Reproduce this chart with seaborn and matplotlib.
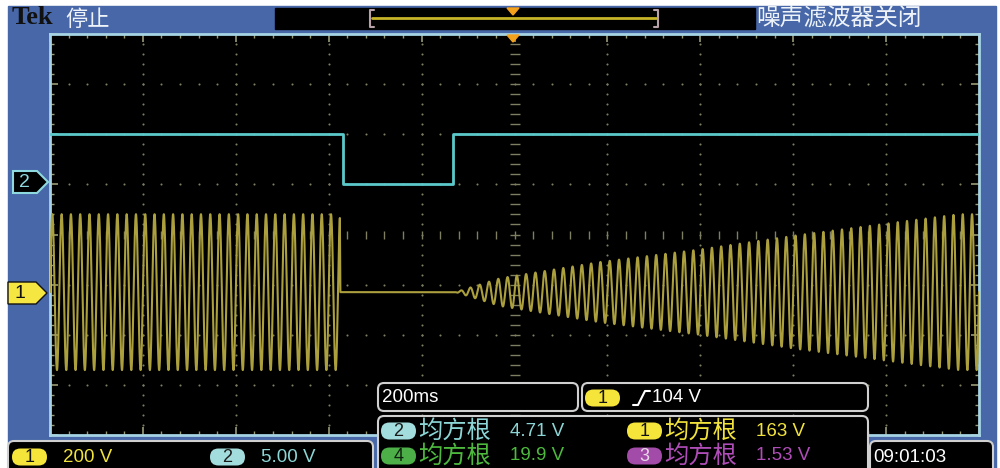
import numpy as np
import pandas as pd
import matplotlib
matplotlib.use("Agg")
import matplotlib.pyplot as plt
import seaborn as sns
from matplotlib import font_manager
from matplotlib.patches import Rectangle, FancyBboxPatch, Polygon

# ---- values ----
sec_per_div = 0.2          # 200ms/div, 10 divisions across
n_hdiv = 10
n_vdiv = 8
line_freq = 50             # mains, Hz
ch1_volts_per_div = 200
ch2_volts_per_div = 5.0
ch1_pos_div = -1.15        # ch1 ground marker, divisions from centre
ch2_pos_div = 1.0

# ch1 peak envelope (V) against time (s)
ch1_env_t = [0.0, 0.624, 0.625, 0.873, 0.968, 1.183, 1.398, 1.613, 1.828, 1.957, 2.0]
ch1_env_v = [311, 311, 0, 0, 55, 120, 170, 228, 280, 311, 311]

# ch2 step signal
ch2_t = [0.0, 0.630, 0.630, 0.867, 0.867, 2.0]
ch2_v = [5.0, 5.0, 0.0, 0.0, 5.0, 5.0]

# readouts
scale_ch = ["1", "2"]
scale_txt = ["200 V", "5.00 V"]
timebase_txt = "200ms"
trig_ch = "1"
trig_txt = "104 V"
meas_ch = ["2", "1", "4", "3"]
meas_name = ["均方根", "均方根", "均方根", "均方根"]
meas_val = ["4.71 V", "163 V", "19.9 V", "1.53 V"]
clock_txt = "09:01:03"
status_txt = "停止"
filter_txt = "噪声滤波器关闭"

# ---- styling ----
blue = "#4767A8"
ch_col = {"1": "#F2E33C", "2": "#8CD6D6", "3": "#B04DB8", "4": "#4DBA3E"}
badge_col = {"1": "#F5E53A", "2": "#A3DCDC", "3": "#A24BA8", "4": "#4CAF48"}
badge_txt = {"1": "#111111", "2": "#1a1a1a", "3": "#E8D8E8", "4": "#102010"}
dot_c = "#7E7E62"
cjk = ["Noto Sans CJK SC", "DejaVu Sans"]
names = {f.name for f in font_manager.fontManager.ttflist}
num_font = ["Liberation Sans Narrow"] if "Liberation Sans Narrow" in names else ["Liberation Sans"]
num_fs = 15 if num_font[0].endswith("Narrow") else 13.5

sns.set_style("dark")
plt.rcParams["font.family"] = num_font + ["DejaVu Sans"]

fig = plt.figure(figsize=(10, 4.68), dpi=100)
fig.patch.set_facecolor("white")

# background (pixel coords)
bg = fig.add_axes([0, 0, 1, 1], zorder=0)
bg.set_xlim(0, 1000)
bg.set_ylim(468, 0)
bg.axis("off")
bg.add_patch(Rectangle((8, 6), 988, 470, color=blue))

# graticule axes
gx0, gx1, gy0, gy1 = 50, 979, 34, 435
ax = fig.add_axes([gx0 / 1000, 1 - gy1 / 468, (gx1 - gx0) / 1000, (gy1 - gy0) / 468], zorder=1)
ax.set_facecolor("black")
tmax = sec_per_div * n_hdiv
ax.set_xlim(0, tmax)
ax.set_ylim(-n_vdiv / 2, n_vdiv / 2)
for s in ax.spines.values():
    s.set_color("#A6D4E4")
    s.set_linewidth(2)
ax.set_xticks(np.arange(0, tmax + 1e-9, sec_per_div))
ax.set_xticks(np.arange(0, tmax + 1e-9, sec_per_div / 5), minor=True)
ax.set_yticks(np.arange(-4, 4.01, 1))
ax.set_yticks(np.arange(-4, 4.01, 0.2), minor=True)
ax.tick_params(which="both", direction="in", top=True, right=True, bottom=True, left=True,
               labelbottom=False, labelleft=False, color="#9A9A76")
ax.tick_params(which="major", length=6, width=1.2)
ax.tick_params(which="minor", length=3, width=1)
ax.grid(False)

ys = np.arange(-4, 4.01, 0.2)[1:-1]
xs = np.arange(0, tmax + 1e-9, sec_per_div / 5)[1:-1]
for k in range(1, n_hdiv):
    xv = k * sec_per_div
    if k == n_hdiv // 2:
        ax.plot(np.full(ys.size, xv), ys, ls="none", marker="_", ms=7, mew=1, color=dot_c)
    else:
        ax.plot(np.full(ys.size, xv), ys, ls="none", marker="o", ms=1.5, mew=0, color=dot_c)
for m in range(-3, 4):
    if m == 0:
        ax.plot(xs, np.zeros(xs.size), ls="none", marker="|", ms=6, mew=1, color=dot_c)
    else:
        ax.plot(xs, np.full(xs.size, m), ls="none", marker="o", ms=1.5, mew=0, color=dot_c)

# traces
t = np.linspace(0, tmax, 12001)
env = np.interp(t, ch1_env_t, ch1_env_v)
v1 = env * np.sin(2 * np.pi * line_freq * t)
df1 = pd.DataFrame({"t": t, "div": ch1_pos_div + v1 / ch1_volts_per_div})
df2 = pd.DataFrame({"t": ch2_t, "div": ch2_pos_div + np.array(ch2_v) / ch2_volts_per_div})
sns.lineplot(data=df1, x="t", y="div", ax=ax, color="#ACA03E", lw=1.5,
             estimator=None, sort=False, zorder=3)
sns.lineplot(data=df2, x="t", y="div", ax=ax, color="#5BC9C9", lw=2.0,
             estimator=None, sort=False, zorder=4)
ax.set_xlabel("")
ax.set_ylabel("")

# overlay (pixel coords)
ov = fig.add_axes([0, 0, 1, 1], zorder=3)
ov.set_xlim(0, 1000)
ov.set_ylim(468, 0)
ov.axis("off")


def box(x0, y0, x1, y1):
    ov.add_patch(FancyBboxPatch((x0, y0), x1 - x0, y1 - y0,
                                boxstyle="round,pad=0,rounding_size=6",
                                fc="black", ec="#D0D0D0", lw=1.5))


def badge(x0, yc, ch, w=35, h=17):
    ov.add_patch(FancyBboxPatch((x0, yc - h / 2), w, h,
                                boxstyle=f"round,pad=0,rounding_size={h / 2}",
                                fc=badge_col[ch], ec="none"))
    ov.text(x0 + w / 2, yc + 0.5, ch, color=badge_txt[ch], ha="center", va="center", fontsize=13)


# top bar
ov.text(12, 18, "Tek", family=["Liberation Serif"], weight="bold", fontsize=19,
        color="#111111", ha="left", va="center")
ov.text(65, 19, status_txt, family=cjk, fontsize=16, color="#EEF3FA", ha="left", va="center")
ov.text(756, 19, filter_txt, family=cjk, fontsize=17, color="#EEF3FA", ha="left", va="center")
ov.add_patch(Rectangle((275, 8), 480, 21, color="black"))
ov.plot([372, 656], [17.5, 17.5], color="#C8B428", lw=2)
ov.plot([374, 370, 370, 374], [10, 10, 27, 27], color="#B8A0A8", lw=1.5)
ov.plot([654, 658, 658, 654], [10, 10, 27, 27], color="#B8A0A8", lw=1.5)
ov.add_patch(Polygon([(507, 8), (519, 8), (513, 15)], color="#F4A11C"))
ov.add_patch(Polygon([(507, 35), (519, 35), (513, 42)], color="#F4A11C"))

# channel markers
ov.add_patch(Polygon([(13, 171), (37, 171), (48, 182), (37, 193), (13, 193)],
                     fc="black", ec="#8ED8E0", lw=1.5))
ov.text(24, 182.5, "2", color="#8ED8E0", ha="center", va="center", fontsize=14)
ov.add_patch(Polygon([(8, 282), (36, 282), (47, 293), (36, 304), (8, 304)],
                     fc="#F5E642", ec="#111111", lw=1))
ov.text(20, 293.5, "1", color="#111111", ha="center", va="center", fontsize=14)

# bottom readouts
box(378, 383, 578, 411)
ov.text(382, 398, timebase_txt, color="white", ha="left", va="center", fontsize=num_fs)
box(582, 383, 868, 411)
badge(585, 398, trig_ch)
ov.plot([633, 638, 645, 650], [405, 405, 391, 391], color="white", lw=1.5)
ov.text(652, 398, trig_txt, color="white", ha="left", va="center", fontsize=num_fs)

box(378, 416, 868, 480)
meas_x = [381, 627]
meas_y = [431, 456]
for i, (ch, nm, val) in enumerate(zip(meas_ch, meas_name, meas_val)):
    row, col = i // 2, i % 2
    x0, yc = meas_x[col], meas_y[row]
    badge(x0, yc, ch)
    ov.text(x0 + 37, yc, nm, family=cjk, fontsize=17.5, color=ch_col[ch], ha="left", va="center")
    ov.text(x0 + 129, yc, val, color=ch_col[ch], ha="left", va="center", fontsize=num_fs)

box(8, 441, 373, 480)
for ch, txt, bx in zip(scale_ch, scale_txt, [12, 210]):
    badge(bx, 457, ch)
    ov.text(bx + 51, 457, txt, color=ch_col[ch], ha="left", va="center", fontsize=num_fs)

box(870, 441, 993, 480)
ov.text(873, 458, clock_txt, color="white", ha="left", va="center", fontsize=num_fs)

fig.savefig("out.png", dpi=100, facecolor="white")
